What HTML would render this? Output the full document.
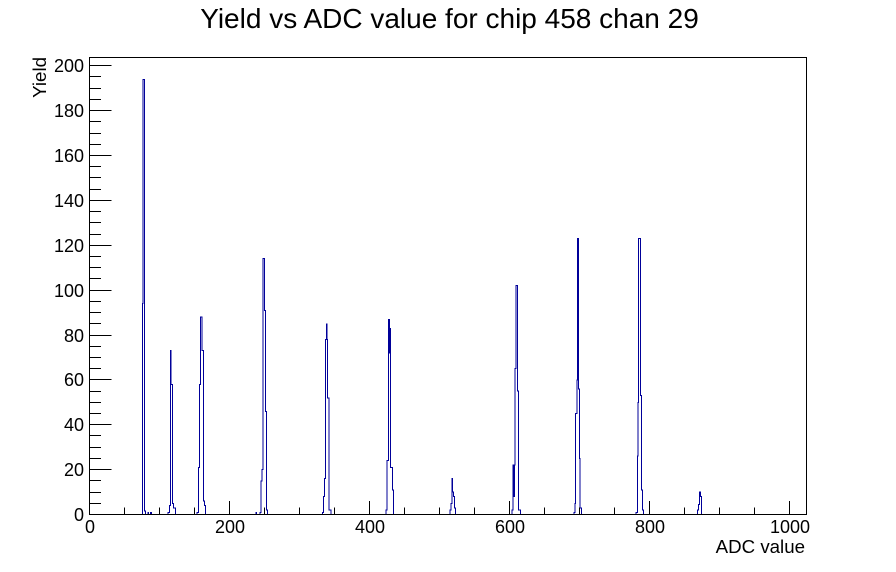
<!DOCTYPE html>
<html>
<head>
<meta charset="utf-8">
<style>
html,body{margin:0;padding:0;background:#fff;}
svg{display:block;}
text{font-family:"Liberation Sans",Arial,Helvetica,sans-serif;fill:#000;}
</style>
</head>
<body>
<svg width="896" height="572" viewBox="0 0 896 572" xmlns="http://www.w3.org/2000/svg">
<rect x="0" y="0" width="896" height="572" fill="#fff"/>

<!-- histogram -->
<g transform="translate(0,514.5) scale(1,-2.2435)">
<path fill="none" stroke="#000099" stroke-width="1" shape-rendering="crispEdges" vector-effect="non-scaling-stroke" d="M90,0
H142.3 V94 H143.2 V194 H144.7 V1.5 H145.7 V0 H148 V1 H148.7 V0 H150.7 V1 H151.3 V0
H168 V1 H169.3 V4 H170.3 V73 H171.2 V58 H172.7 V5 H173.3 V3 H175.7 V0
H197 V1 H198.3 V21 H199.7 V58 H200.7 V88 H202 V73 H203.3 V6 H204.3 V4 H205.7 V0
H256 V1 H256.7 V0 H260 V1 H261 V15 H262 V20 H263 V114 H264.3 V91 H265.7 V46 H266.3 V2 H267.7 V0
H322.7 V1 H323.3 V8 H324.3 V16 H325.3 V78 H326.3 V85 H327 V78 H327.7 V52 H329 V2 H331 V0
H386 V2 H387 V24 H388.7 V87 H389.3 V72 H389.7 V83 H390.3 V71 H390.7 V21 H392.3 V11 H393.3 V0
H450 V2 H451 V5 H452 V16 H452.7 V10 H453.7 V8 H454.3 V3 H455.7 V0
H512 V2 H513 V22 H513.7 V8 H514.3 V22 H515 V65 H516 V102 H517.3 V55 H518.3 V2 H520.7 V0
H574 V1 H575 V5 H575.7 V45 H577 V60 H577.7 V123 H578.3 V56 H579.3 V25 H580 V3 H581.7 V0
H636 V1 H637.3 V26 H638 V50 H638.7 V123 H640.3 V53 H641.7 V11 H642.3 V2 H643.3 V0
H697.7 V2 H698.3 V4.5 H699.7 V10 H700.7 V8 H701.7 V0
H806"/>
</g>

<!-- frame -->
<rect x="89.5" y="57.5" width="717" height="457" fill="none" stroke="#000" stroke-width="1"/>

<!-- y ticks -->
<path fill="none" stroke="#000" stroke-width="1" d="
M89.5,514.5H111.5 M89.5,469.5H111.5 M89.5,424.5H111.5 M89.5,379.5H111.5 M89.5,335.5H111.5 M89.5,290.5H111.5 M89.5,245.5H111.5 M89.5,200.5H111.5 M89.5,155.5H111.5 M89.5,110.5H111.5 M89.5,65.5H111.5
M89.5,503.5H101 M89.5,492.5H101 M89.5,480.5H101
M89.5,458.5H101 M89.5,447.5H101 M89.5,435.5H101
M89.5,413.5H101 M89.5,402.5H101 M89.5,391.5H101
M89.5,368.5H101 M89.5,357.5H101 M89.5,346.5H101
M89.5,323.5H101 M89.5,312.5H101 M89.5,301.5H101
M89.5,278.5H101 M89.5,267.5H101 M89.5,256.5H101
M89.5,234.5H101 M89.5,222.5H101 M89.5,211.5H101
M89.5,189.5H101 M89.5,177.5H101 M89.5,166.5H101
M89.5,144.5H101 M89.5,133.5H101 M89.5,121.5H101
M89.5,99.5H101 M89.5,88.5H101 M89.5,76.5H101
"/>

<!-- x ticks -->
<path fill="none" stroke="#000" stroke-width="1" d="
M89.5,514.5V501 M229.5,514.5V501 M369.5,514.5V501 M509.5,514.5V501 M649.5,514.5V501 M789.5,514.5V501
M124.5,514.5V507.5 M159.5,514.5V507.5 M194.5,514.5V507.5
M264.5,514.5V507.5 M299.5,514.5V507.5 M334.5,514.5V507.5
M404.5,514.5V507.5 M439.5,514.5V507.5 M474.5,514.5V507.5
M544.5,514.5V507.5 M579.5,514.5V507.5 M614.5,514.5V507.5
M684.5,514.5V507.5 M719.5,514.5V507.5 M754.5,514.5V507.5
"/>

<!-- y labels -->
<g font-size="18" text-anchor="end">
<text x="84" y="521">0</text>
<text x="84" y="476">20</text>
<text x="84" y="431">40</text>
<text x="84" y="386">60</text>
<text x="84" y="342">80</text>
<text x="84" y="297">100</text>
<text x="84" y="252">120</text>
<text x="84" y="207">140</text>
<text x="84" y="162">160</text>
<text x="84" y="117">180</text>
<text x="84" y="72">200</text>
</g>

<!-- x labels -->
<g font-size="18" text-anchor="middle">
<text x="90" y="533">0</text>
<text x="230" y="533">200</text>
<text x="370" y="533">400</text>
<text x="510" y="533">600</text>
<text x="650" y="533">800</text>
<text x="790" y="533">1000</text>
</g>

<!-- axis titles -->
<text x="805" y="553" font-size="18.7" text-anchor="end">ADC value</text>
<text transform="translate(46,57) rotate(-90)" font-size="18.7" text-anchor="end">Yield</text>

<!-- title -->
<text x="449.5" y="28" font-size="28" text-anchor="middle">Yield vs ADC value for chip 458 chan 29</text>
</svg>
</body>
</html>
